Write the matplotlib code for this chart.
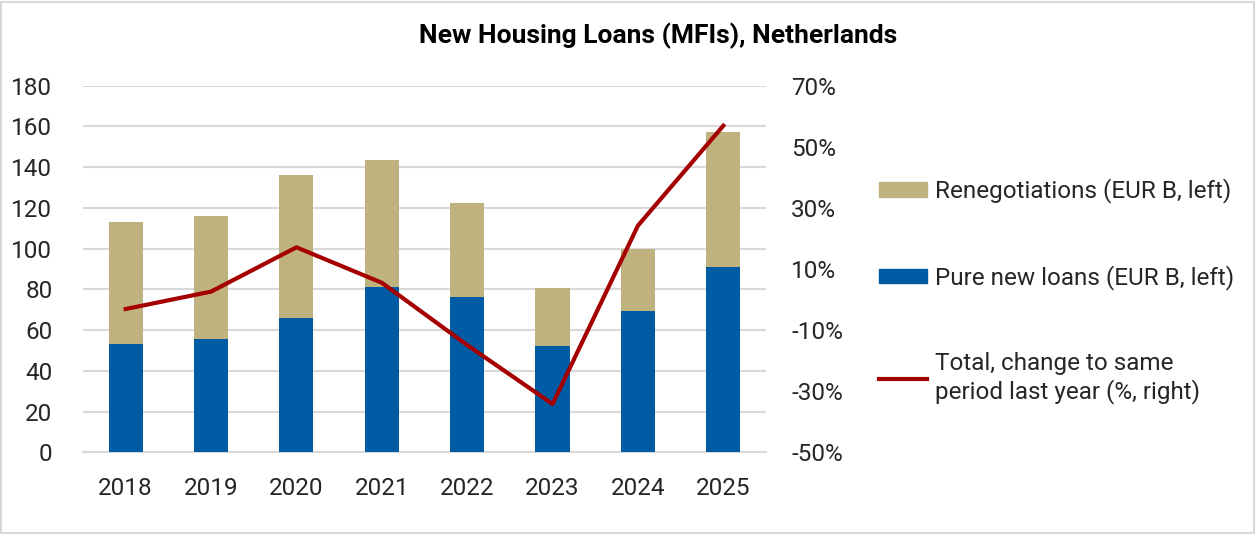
import matplotlib
matplotlib.use("Agg")
import matplotlib.pyplot as plt
from matplotlib.patches import Patch, Rectangle
from matplotlib.lines import Line2D
import numpy as np

# data
years = ["2018", "2019", "2020", "2021", "2022", "2023", "2024", "2025"]
pure_new = [53.0, 55.5, 65.8, 81.3, 76.1, 52.2, 69.4, 90.8]
totals = [112.9, 116.0, 136.0, 143.5, 122.2, 80.5, 99.7, 157.2]
renegotiations = [t - p for t, p in zip(totals, pure_new)]
total_change = [-3.1, 2.6, 17.1, 5.5, -14.9, -34.2, 24.2, 56.9]

c_tan = "#C0B27E"
c_blue = "#005BA5"
c_red = "#A50000"
c_txt = "#262626"
c_grid = "#D9D9D9"

plt.rcParams["font.family"] = ["Roboto", "DejaVu Sans"]

fig = plt.figure(figsize=(12.57, 5.34), dpi=100)
ax = fig.add_axes([0.066, 0.153, 0.5434, 0.6865])
ax2 = ax.twinx()

x = np.arange(len(years))
ax.bar(x, pure_new, width=0.4, color=c_blue, zorder=3)
ax.bar(x, renegotiations, width=0.4, bottom=pure_new, color=c_tan, zorder=3)
ax2.plot(x, total_change, color=c_red, lw=3, zorder=4)

ax.set_xlim(-0.5, 7.5)
ax.set_ylim(0, 180)
ax.set_yticks(np.arange(0, 181, 20))
ax2.set_ylim(-50, 70)
ax2.set_yticks(np.arange(-50, 71, 20))
ax2.set_yticklabels([f"{v}%" for v in range(-50, 71, 20)])

ax.set_xticks(x)
ax.set_xticklabels(years)
ax.yaxis.grid(True, color=c_grid, lw=1.5, zorder=0)
ax.set_axisbelow(True)

for a in (ax, ax2):
    for s in a.spines.values():
        s.set_visible(False)
    a.tick_params(length=0, labelsize=17.5, labelcolor=c_txt)
ax.spines["bottom"].set_visible(True)
ax.spines["bottom"].set_color(c_grid)
ax.spines["bottom"].set_linewidth(1.5)
ax.tick_params(axis="y", pad=22)
ax.tick_params(axis="x", pad=18)
ax2.tick_params(axis="y", pad=18)

fig.text(0.5235, 0.932, "New Housing Loans (MFIs), Netherlands", ha="center", va="center",
         fontsize=19, fontweight="bold", color="black")

handles = [Patch(color=c_tan), Patch(color=c_blue), Line2D([0], [0], color=c_red, lw=3)]
labels = ["Renegotiations (EUR B, left)", "Pure new loans (EUR B, left)",
          "Total, change to same\nperiod last year (%, right)"]
leg = fig.legend(handles, labels, loc="upper left", bbox_to_anchor=(0.699, 0.666),
                 frameon=False, fontsize=17.5, handlelength=2.0, handleheight=0.56,
                 handletextpad=0.3, labelspacing=2.55, borderaxespad=0, borderpad=0)
for t in leg.get_texts():
    t.set_color(c_txt)

fig.patches.append(Rectangle((0.001, 0.002), 0.997, 0.995, transform=fig.transFigure,
                             fill=False, edgecolor=c_grid, lw=1.5))

fig.savefig("out.png", dpi=100)
